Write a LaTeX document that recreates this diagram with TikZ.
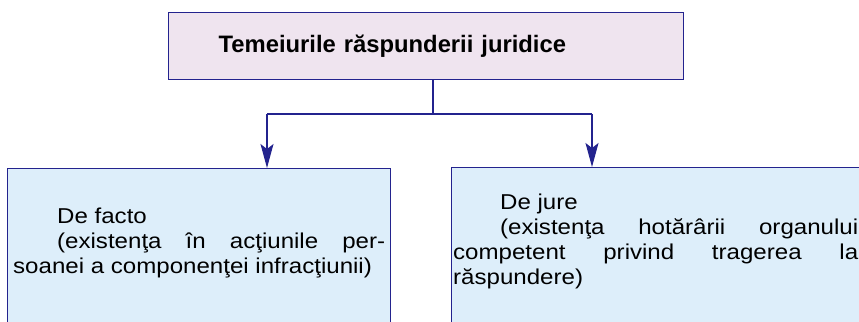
\documentclass[tikz,border=0pt]{standalone}
\usepackage{fontspec}
\setmainfont{Liberation Sans}
\newfontfamily\widefont[FakeStretch=1.12]{Liberation Sans}
\usepackage{tikz}
\usetikzlibrary{arrows.meta}
\definecolor{navy}{HTML}{23238E}
\definecolor{lilac}{HTML}{EFE4EF}
\definecolor{sky}{HTML}{DDEEFA}
\sloppy
\tikzset{
  link/.style={draw=navy, line width=1.3pt},
  arr/.style={link, -{Stealth[length=24bp,width=13bp,inset=5bp]}},
  topbox/.style={draw=navy, fill=lilac, line width=1.3pt, minimum width=515bp, minimum height=67bp,
    inner xsep=50bp, inner ysep=0pt, text width=415bp, align=left,
    font=\bfseries\fontsize{23.8bp}{26bp}\selectfont},
  lowbox/.style={draw=navy, fill=sky, line width=1.2pt, minimum height=200bp},
  lab/.style={inner sep=0pt, align=justify, font=\widefont\fontsize{21.5bp}{25bp}\selectfont},
}
\begin{document}
\begin{tikzpicture}[x=1bp, y=-1bp]
  \useasboundingbox (0,0) rectangle (859,321);
  \clip (0,0) rectangle (859,321);
  \node[topbox, anchor=north west] (top) at (168,12) {Temeiurile răspunderii juridice};
  % the two lower boxes run past the page edge
  \node[lowbox, minimum width=383bp, anchor=north west] (fact) at (7,168) {};
  \node[lowbox, minimum width=500bp, anchor=north west] (jure) at (451,167) {};
  \node[lab, text width=372bp, anchor=north west] (facttxt) at (13,208)
    {\hspace*{44bp}De facto\\ \hspace*{44bp}(existenţa în acţiunile per-\linebreak soanei a componenţei infracţiunii)};
  \node[lab, text width=405bp, anchor=north west] (juretxt) at (453,194)
    {\hspace*{47bp}De jure\\ \hspace*{47bp}(existenţa hotărârii organului\linebreak competent privind tragerea la\linebreak răspundere)};
  % connectors
  \coordinate (split) at (433,114);
  \coordinate (dl) at (267,114);
  \coordinate (dr) at (592,114);
  \draw[link] (split |- top.south) -- (split);
  \draw[link] (dl) -- (dr);
  \draw[arr] (dl) -- (dl |- fact.north);
  \draw[arr] (dr) -- (dr |- jure.north);
\end{tikzpicture}
\end{document}
